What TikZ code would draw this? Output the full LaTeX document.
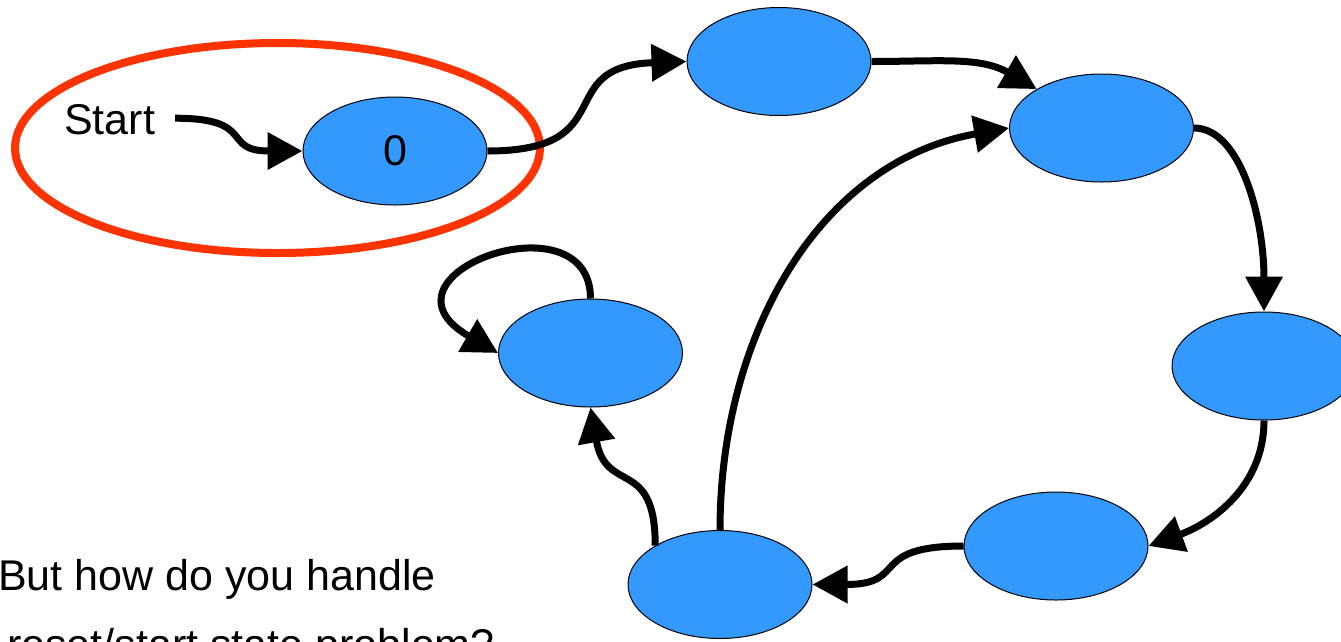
\documentclass[tikz,border=0pt]{standalone}
\usepackage{fontspec}
\setmainfont{Liberation Sans}
\usetikzlibrary{arrows.meta,shapes.geometric}
\definecolor{stateblue}{HTML}{3399FF}
\definecolor{hilite}{HTML}{FF3300}
\tikzset{
  state/.style={ellipse, draw=black, line width=1pt, fill=stateblue,
    minimum width=184pt, minimum height=108pt, inner sep=0pt,
    font=\fontsize{43}{51}\selectfont},
  edge/.style={line width=7pt, -{Triangle[length=35pt,width=36pt]}},
  lbl/.style={inner sep=0pt, font=\fontsize{43}{51}\selectfont},
  region/.style={ellipse, draw=hilite, line width=8pt,
    minimum width=525pt, minimum height=210pt, inner sep=0pt}
}
\begin{document}
\begin{tikzpicture}[x=1pt,y=1pt]
  \useasboundingbox (0,0) rectangle (1341,-641);
  \clip (0,0) rectangle (1341,-641);
  % highlight region
  \node[region] (reg) at (277.5,-148) {};
  % states
  \node[state] (n0) at (395,-151) {0};
  \node[state] (a) at (779,-61.5) {};
  \node[state] (b) at (1101.5,-128) {};
  \node[state] (c) at (1264,-366) {};
  \node[state] (d) at (1056,-546) {};
  \node[state] (e) at (720,-584.5) {};
  \node[state] (f) at (590.5,-353) {};
  % labels
  \node[lbl, anchor=base west] (stx) at (64,-134) {Start};
  \coordinate (st) at ([xshift=20pt,yshift=1pt]stx.east);
  \node[lbl, anchor=base west] (q1) at (-2,-590) {But how do you handle};
  \node[lbl, anchor=base west] (q2) at (7,-659) {reset/start state problem?};
  % connectors
  \draw[edge] (st) to[out=0,in=180,looseness=1.6] (n0.west);
  \draw[edge] (n0.east) to[out=0,in=182,looseness=1.6] (a.west);
  \draw[edge] (a.east) to[out=0,in=150] (b.149);
  \draw[edge] (b.east) .. controls +(47,0) and +(0,92) .. (c.north);
  \draw[edge] (c.south) to[out=-90,in=20] (d.east);
  \draw[edge] (d.west) to[out=180,in=0,looseness=1.6] (e.east);
  \draw[edge] (e.149) to[out=90,in=-80,looseness=1.5] (f.south);
  \draw[edge] (e.north) to[out=90,in=190] (b.west);
  \draw[edge] (f.north) .. controls +(0,105) and +(-135,78) .. (f.west);
\end{tikzpicture}
\end{document}
